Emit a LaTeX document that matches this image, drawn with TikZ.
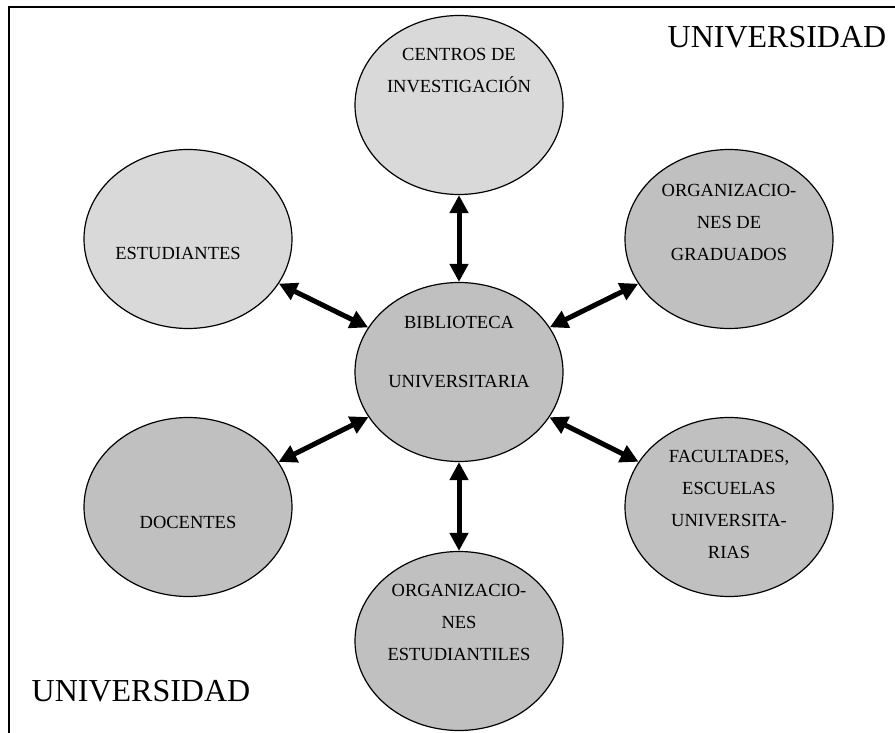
\documentclass[tikz,border=0pt]{standalone}
\usepackage{fontspec}
\setmainfont{Liberation Serif}
\usepackage{tikz}
\usetikzlibrary{arrows.meta,positioning,calc,shapes.geometric}
\definecolor{grisclaro}{RGB}{217,217,217}
\definecolor{grisoscuro}{RGB}{192,192,192}
\tikzstyle{actor}=[draw,ellipse,line width=1.2pt,minimum width=208pt,minimum height=179pt,inner sep=0pt,fill=grisoscuro]
\tikzstyle{rotulo}=[align=center,inner sep=0pt,font=\fontsize{18.5}{32}\selectfont]
\tikzstyle{flecha}=[<->,line width=5pt]

\begin{document}
\begin{tikzpicture}[x=1pt,y=-1pt,>={Triangle[length=18pt,width=18pt]}]
    \useasboundingbox (0,0) rectangle (895,733);
    \draw[line width=1.5pt] (9,733) -- (9,7) -- (895,7);

    \node [actor] (bib) at (459,372) {};
    \node [actor,fill=grisclaro] (cen) at (459,105) {};
    \node [actor,fill=grisclaro] (est) at (188,239) {};
    \node [actor] (grad) at (729,239) {};
    \node [actor] (doc) at (188,507) {};
    \node [actor] (fac) at (729,507) {};
    \node [actor] (orgest) at (459,641) {};

    \node [rotulo] at ($(bib)+(0,-20)$) {BIBLIOTECA\\[27pt]UNIVERSITARIA};
    \node [rotulo] at ($(cen)+(0,-34)$) {CENTROS DE\\INVESTIGACIÓN};
    \node [rotulo] at ($(est)+(-10,14)$) {ESTUDIANTES};
    \node [rotulo] at ($(grad)+(0,-17)$) {ORGANIZACIO-\\NES DE\\GRADUADOS};
    \node [rotulo] at ($(doc)+(0,15)$) {DOCENTES};
    \node [rotulo] at ($(fac)+(0,-3)$) {FACULTADES,\\ESCUELAS\\UNIVERSITA-\\RIAS};
    \node [rotulo] at ($(orgest)+(0,-19)$) {ORGANIZACIO-\\NES\\ESTUDIANTILES};

    \node [font=\fontsize{32}{38}\selectfont] (univ1) at (777,37) {UNIVERSIDAD};
    \node [font=\fontsize{32}{38}\selectfont] (univ2) at (141,691) {UNIVERSIDAD};

    \draw [flecha] (cen) -- (bib);
    \draw [flecha] (est) -- (bib);
    \draw [flecha] (grad) -- (bib);
    \draw [flecha] (doc) -- (bib);
    \draw [flecha] (fac) -- (bib);
    \draw [flecha] (orgest) -- (bib);
\end{tikzpicture}
\end{document}
